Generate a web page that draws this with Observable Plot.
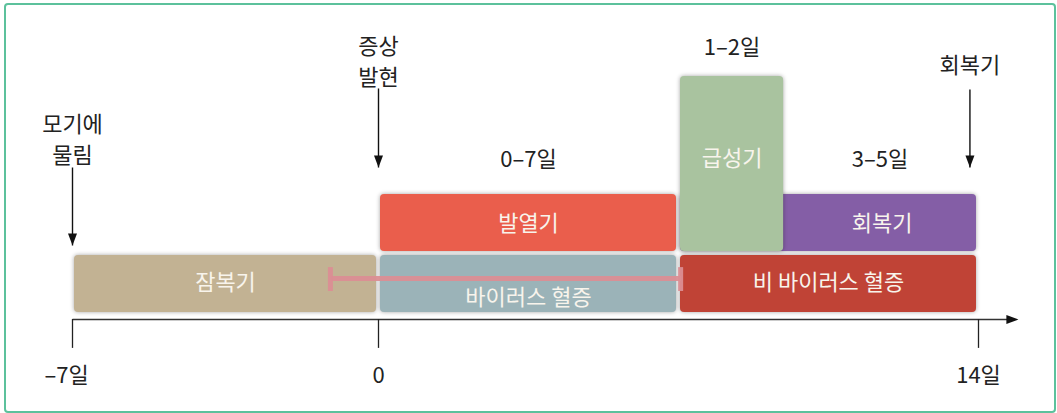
<!DOCTYPE html>
<html><head><meta charset="utf-8">
<script src="https://cdn.jsdelivr.net/npm/d3@7"></script>
<script src="https://cdn.jsdelivr.net/npm/@observablehq/plot@0.6"></script>
<style>
body{margin:0;background:#fff;}
#frame{position:absolute;left:4px;top:3px;width:1052px;height:410px;box-sizing:border-box;border:2.5px solid #5cc19c;border-radius:4px;}
#chart{position:absolute;left:0;top:0;}
g[aria-label="rect"] rect{filter:drop-shadow(0 0 2px rgba(0,0,0,0.35));}
</style></head>
<body>
<div id="frame"></div>
<div id="chart"></div>
<script>
// phases (drawn in this order; 급성기 last so it sits on top of 회복기)
const phases = ["잠복기", "바이러스 혈증", "발열기", "회복기", "비 바이러스 혈증", "급성기"];
const phaseStart = [-7, 0, 0, 7, 7, 7];
const phaseEnd = [0, 7, 7, 14, 14, 9.5];
const phaseBottom = [0, 0, 1, 1, 0, 1];
const phaseTop = [1, 1, 2, 2, 1, 4];
const phaseColors = ["#c2b293", "#9bb3b8", "#ea5e4c", "#845ea6", "#c04336", "#a9c39f"];
const phaseLabelX = [-3.5, 3.5, 3.5, 11.75, 10.5, 8.25];
const phaseLabelY = [0.5, 0.25, 1.5, 1.5, 0.5, 2.6];

// viremia range bar
const viremiaStart = -1.1;
const viremiaEnd = 7.05;
const viremiaLevel = 0.575;
const viremiaCap = [0.355, 0.76];

// durations
const durationLabels = ["0–7일", "1–2일", "3–5일"];
const durationX = [3.5, 8.25, 11.7];
const durationY = [2.58, 4.49, 2.58];

// event annotations
const eventLabels = ["모기에\n물림", "증상\n발현", "회복기"];
const eventX = [-7, 0, 13.8];
const eventLabelY = [2.97, 4.29, 4.22];
const eventArrowFrom = [2.457, 3.797, 3.78];
const eventArrowTo = [1.135, 2.457, 2.457];

// axis
const tickValues = [-7, 0, 14];
const tickLabels = ["–7일", "0", "14일"];
const axisLevel = -0.12;
const axisEnd = 14.93;

const bars = phases.map((p, i) => ({p, x1: phaseStart[i], x2: phaseEnd[i], y1: phaseBottom[i], y2: phaseTop[i], c: phaseColors[i], lx: phaseLabelX[i], ly: phaseLabelY[i]}));
const lower = bars.filter(d => d.y1 === 0);
const upper = bars.filter(d => d.y1 !== 0);
const events = eventLabels.map((t, i) => ({t, x: eventX[i], ly: eventLabelY[i], a1: eventArrowFrom[i], a2: eventArrowTo[i]}));
const durations = durationLabels.map((t, i) => ({t, x: durationX[i], y: durationY[i]}));
const ticks = tickValues.map((v, i) => ({v, t: tickLabels[i]}));
const negTicks = ticks.filter(d => d.v < 0);
const posTicks = ticks.filter(d => d.v >= 0);

const arrowHead = {draw(ctx) { ctx.moveTo(0, 0); ctx.lineTo(-4.5, -12); ctx.lineTo(4.5, -12); ctx.closePath(); }};
const font = "'Noto Sans CJK KR', 'Noto Sans', sans-serif";
const fs = 22;

const plot = Plot.plot({
  width: 1057, height: 413,
  x: {type: "linear", domain: [-7, 0, 14], range: [72, 378, 978], axis: null},
  y: {type: "linear", domain: [axisLevel, 4], range: [319, 76], axis: null},
  color: {type: "identity"},
  style: {fontFamily: font, background: "transparent"},
  marks: [
    Plot.rect(lower, {x1: "x1", x2: "x2", y1: "y1", y2: "y2", fill: "c", rx: 4, insetLeft: 2, insetRight: 2, insetTop: 2}),
    Plot.rect(upper, {x1: "x1", x2: "x2", y1: "y1", y2: "y2", fill: "c", rx: 4, insetLeft: 2, insetRight: 2, insetBottom: 2}),
    Plot.link([0], {x1: viremiaStart, x2: viremiaEnd, y1: viremiaLevel, y2: viremiaLevel, stroke: "#db8e93", strokeWidth: 5, strokeOpacity: 0.95}),
    Plot.ruleX([viremiaStart, viremiaEnd], {x: d => d, y1: viremiaCap[0], y2: viremiaCap[1], stroke: "#db8e93", strokeWidth: 5, strokeOpacity: 0.95}),
    Plot.text(bars, {x: "lx", y: "ly", text: "p", fill: "#f8f4ec", fontSize: fs, fontFamily: font}),
    // axis
    Plot.link([0], {x1: -7, x2: axisEnd - 0.2, y1: axisLevel, y2: axisLevel, stroke: "#333", strokeWidth: 1.5}),
    Plot.dot([0], {x: axisEnd, y: axisLevel, symbol: arrowHead, r: 5, fill: "#111", stroke: "none", rotate: -90}),
    Plot.ruleX(ticks, {x: "v", y1: axisLevel, y2: axisLevel - 0.49, stroke: "#222", strokeWidth: 1.3}),
    Plot.text(negTicks, {x: "v", y: axisLevel - 0.95, text: "t", fill: "#222", fontSize: fs, fontFamily: font, dx: -6}),
    Plot.text(posTicks, {x: "v", y: axisLevel - 0.95, text: "t", fill: "#222", fontSize: fs, fontFamily: font}),
    // event arrows
    Plot.link(events, {x1: "x", x2: "x", y1: "a1", y2: "a2", stroke: "#111", strokeWidth: 1.4}),
    Plot.dot(events, {x: "x", y: "a2", symbol: arrowHead, r: 5, fill: "#111", stroke: "none"}),
    Plot.text(events, {x: "x", y: "ly", text: "t", fill: "#222", fontSize: fs, lineHeight: 1.4, fontFamily: font}),
    Plot.text(durations, {x: "x", y: "y", text: "t", fill: "#222", fontSize: fs, fontFamily: font})
  ]
});
document.getElementById("chart").appendChild(plot);
</script>
</body></html>
